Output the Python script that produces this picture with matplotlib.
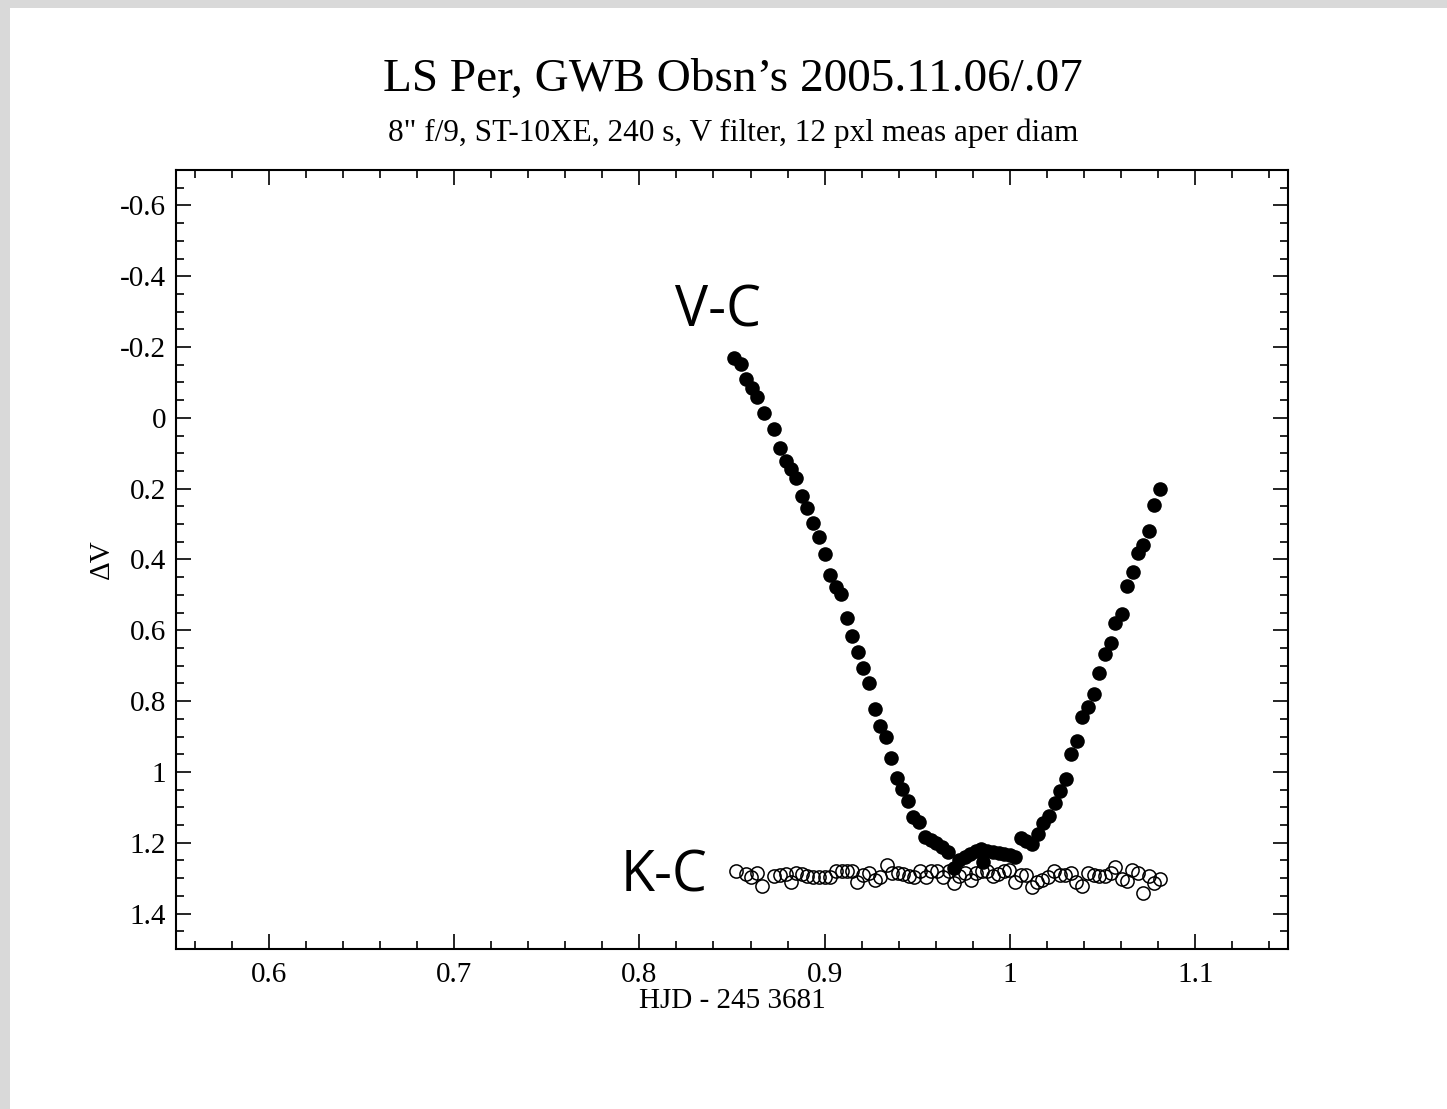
import matplotlib.pyplot as plt
from matplotlib.patches import Rectangle
from matplotlib.ticker import MultipleLocator

# V-C: variable minus comparison (filled)
vc_hjd = [0.8513, 0.8551, 0.8578, 0.8610, 0.8637, 0.8670, 0.8729, 0.8761, 0.8793, 0.8820,
          0.8847, 0.8879, 0.8906, 0.8939, 0.8971, 0.9003, 0.9030, 0.9062, 0.9089, 0.9122,
          0.9149, 0.9181, 0.9208, 0.9240, 0.9272, 0.9299, 0.9332, 0.9358, 0.9391, 0.9418,
          0.9450, 0.9477, 0.9509, 0.9541, 0.9574, 0.9601, 0.9633, 0.9665, 0.9698, 0.9724,
          0.9757, 0.9784, 0.9816, 0.9843, 0.9854, 0.9875, 0.9907, 0.9940, 0.9967, 0.9999,
          1.0026, 1.0058, 1.0085, 1.0117, 1.0150, 1.0177, 1.0209, 1.0241, 1.0268, 1.0300,
          1.0327, 1.0360, 1.0386, 1.0419, 1.0451, 1.0478, 1.0510, 1.0543, 1.0569, 1.0602,
          1.0629, 1.0661, 1.0688, 1.0720, 1.0752, 1.0779, 1.0812]
vc_dv = [-0.168, -0.152, -0.109, -0.084, -0.058, -0.013, 0.032, 0.085, 0.122, 0.145,
         0.170, 0.221, 0.255, 0.297, 0.337, 0.384, 0.444, 0.478, 0.497, 0.565,
         0.616, 0.661, 0.706, 0.748, 0.822, 0.870, 0.901, 0.960, 1.016, 1.047,
         1.081, 1.126, 1.141, 1.183, 1.191, 1.200, 1.211, 1.225, 1.270, 1.248,
         1.239, 1.231, 1.222, 1.217, 1.253, 1.222, 1.225, 1.228, 1.231, 1.234,
         1.239, 1.186, 1.194, 1.203, 1.174, 1.143, 1.124, 1.087, 1.053, 1.019,
         0.949, 0.912, 0.844, 0.816, 0.779, 0.720, 0.667, 0.636, 0.579, 0.554,
         0.475, 0.435, 0.382, 0.359, 0.320, 0.246, 0.201]

# K-C: check minus comparison (open)
kc_hjd = [0.8524, 0.8573, 0.8605, 0.8637, 0.8664, 0.8729, 0.8761, 0.8793, 0.8820, 0.8847,
          0.8879, 0.8906, 0.8939, 0.8971, 0.9003, 0.9030, 0.9062, 0.9095, 0.9122, 0.9149,
          0.9175, 0.9208, 0.9240, 0.9272, 0.9299, 0.9337, 0.9364, 0.9396, 0.9423, 0.9455,
          0.9482, 0.9515, 0.9547, 0.9574, 0.9606, 0.9638, 0.9671, 0.9698, 0.9724, 0.9757,
          0.9789, 0.9816, 0.9848, 0.9875, 0.9907, 0.9934, 0.9967, 0.9994, 1.0026, 1.0058,
          1.0085, 1.0117, 1.0144, 1.0171, 1.0203, 1.0236, 1.0268, 1.0295, 1.0327, 1.0354,
          1.0386, 1.0419, 1.0451, 1.0478, 1.0510, 1.0543, 1.0569, 1.0602, 1.0629, 1.0656,
          1.0688, 1.0720, 1.0752, 1.0779, 1.0812]
kc_dv = [1.281, 1.287, 1.296, 1.284, 1.321, 1.293, 1.290, 1.287, 1.310, 1.284,
         1.287, 1.293, 1.296, 1.298, 1.296, 1.298, 1.281, 1.279, 1.279, 1.281,
         1.310, 1.290, 1.284, 1.304, 1.296, 1.262, 1.284, 1.284, 1.287, 1.293,
         1.296, 1.279, 1.296, 1.281, 1.279, 1.296, 1.281, 1.313, 1.293, 1.284,
         1.304, 1.284, 1.281, 1.281, 1.293, 1.287, 1.281, 1.276, 1.310, 1.290,
         1.290, 1.324, 1.310, 1.304, 1.298, 1.281, 1.290, 1.290, 1.284, 1.310,
         1.321, 1.284, 1.290, 1.293, 1.293, 1.284, 1.268, 1.301, 1.307, 1.276,
         1.284, 1.341, 1.293, 1.313, 1.301]

title = 'LS Per, GWB Obsn\u2019s 2005.11.06/.07'
subtitle = '8" f/9, ST-10XE, 240 s, V filter, 12 pxl meas aper diam'

serif = ['Liberation Serif', 'DejaVu Serif']
plt.rcParams['font.family'] = serif

fig = plt.figure(figsize=(14.47, 11.09), dpi=100)
fig.patch.set_facecolor('#d9d9d9')
# white page with a thin grey margin at the top and left
fig.patches.append(Rectangle((10 / 1447, 0), 1 - 10 / 1447, 1 - 8 / 1109,
                             transform=fig.transFigure, facecolor='white',
                             edgecolor='none', zorder=-10))

ax = fig.add_axes([176 / 1447, 1 - 949 / 1109, (1288 - 176) / 1447, (949 - 170) / 1109])

ax.plot(vc_hjd, vc_dv, 'o', color='black', markersize=10.5, markeredgewidth=0)
ax.plot(kc_hjd, kc_dv, 'o', markerfacecolor='none', markeredgecolor='black',
        markersize=9.5, markeredgewidth=1.1)

ax.set_xlim(0.55, 1.15)
ax.set_ylim(1.5, -0.7)

ax.xaxis.set_minor_locator(MultipleLocator(0.02))
ax.yaxis.set_minor_locator(MultipleLocator(0.05))
ax.set_xticks([0.6, 0.7, 0.8, 0.9, 1.0, 1.1])
ax.set_xticklabels(['0.6', '0.7', '0.8', '0.9', '1', '1.1'])
ax.set_yticks([-0.6, -0.4, -0.2, 0, 0.2, 0.4, 0.6, 0.8, 1.0, 1.2, 1.4])
ax.set_yticklabels(['-0.6', '-0.4', '-0.2', '0', '0.2', '0.4', '0.6', '0.8', '1', '1.2', '1.4'])

ax.tick_params(which='both', direction='in', top=True, right=True, width=1.2,
               labelsize=21)
ax.tick_params(axis='x', pad=9)
ax.tick_params(axis='y', pad=7)
ax.tick_params(which='major', length=11)
ax.tick_params(which='minor', length=6)
for s in ax.spines.values():
    s.set_linewidth(1.5)

ax.set_xlabel('HJD - 245 3681', fontsize=21, labelpad=0)
ax.set_ylabel('\u0394V', fontsize=21, labelpad=4)

fig.text(733 / 1447, 1 - 80 / 1109, title, ha='center', va='center', fontsize=34)
fig.text(733 / 1447, 1 - 133 / 1109, subtitle, ha='center', va='center', fontsize=22.5)

sans = ['Open Sans', 'DejaVu Sans']
ax.text(0.8427, -0.30, 'V-C', family=sans, fontsize=40, ha='center', va='center')
ax.text(0.8131, 1.298, 'K-C', family=sans, fontsize=40, ha='center', va='center')

fig.savefig('out.png', dpi=100)
